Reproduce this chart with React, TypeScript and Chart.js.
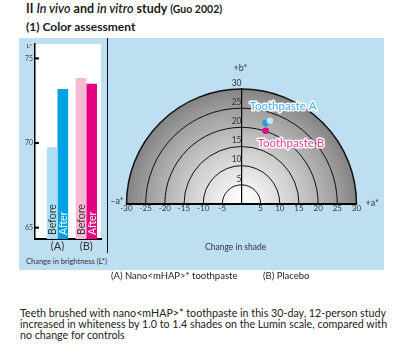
import React, { useEffect, useRef } from 'react';
import { Chart, registerables } from 'chart.js';
Chart.register(...registerables);

const FONT = 'Lato, "Open Sans", sans-serif';

// ---- Left chart: change in brightness (L*) ----
const groups = ['(A)', '(B)'];
const groupPositions = [1, 2];
const beforeL = [69.75, 73.85];
const afterL = [73.2, 73.5];
const barLabels = ['Before', 'After'];
const beforeColors = ['#acdff5', '#f6bad5'];
const afterColors = ['#00a0e4', '#e5007e'];
const barTextColors = ['#333333', '#ffffff'];

// ---- Right chart: change in shade (a*, b*) ----
const shadeRings = [5, 10, 15, 20, 25, 30];
const pasteAStart = [{ x: 7.4, y: 21.7 }];
const pasteAEnd = [{ x: 6.3, y: 21.1 }];
const pasteB = [{ x: 6.3, y: 19.1 }];
const pointLabels = ['Toothpaste A', 'Toothpaste B'];
const pointColors = ['#bfe6f8', '#1a9fe0', '#e6007e'];
const pointLabelColors = ['#48b1e8', '#ea3f9a'];

const leftDeco = {
  id: 'leftDeco',
  beforeDraw(chart: any) {
    const { ctx, chartArea } = chart;
    ctx.save();
    ctx.fillStyle = '#ffffff';
    ctx.fillRect(chartArea.left, chartArea.top, chartArea.right - chartArea.left, chartArea.bottom - chartArea.top);
    ctx.restore();
  },
  afterDraw(chart: any) {
    const { ctx, chartArea, scales } = chart;
    ctx.save();
    // labels inside bars
    ctx.font = `10.5px ${FONT}`;
    ctx.textAlign = 'left';
    ctx.textBaseline = 'middle';
    for (let di = 0; di < chart.data.datasets.length; di++) {
      const meta = chart.getDatasetMeta(di);
      for (const bar of meta.data as any[]) {
        const bx = Number(bar.x);
        ctx.save();
        ctx.translate(bx, chartArea.bottom - 4);
        ctx.rotate(-Math.PI / 2);
        ctx.fillStyle = barTextColors[di];
        ctx.fillText(barLabels[di], 0, 0.5);
        ctx.restore();
      }
    }
    // inside ticks
    ctx.strokeStyle = '#000';
    ctx.lineWidth = 2;
    scales.y.ticks.forEach((t: any) => {
      const y = scales.y.getPixelForValue(t.value);
      ctx.beginPath();
      ctx.moveTo(chartArea.left, y);
      ctx.lineTo(chartArea.left + 4, y);
      ctx.stroke();
    });
    ctx.fillStyle = '#333';
    ctx.font = `6.5px ${FONT}`;
    ctx.textAlign = 'right';
    ctx.textBaseline = 'middle';
    ctx.fillText('L*', chartArea.left - 3, chartArea.top + 2);
    ctx.restore();
  },
};

const rightDeco = {
  id: 'rightDeco',
  beforeDraw(chart: any) {
    const { ctx, scales } = chart;
    const xs = scales.x;
    const ys = scales.y;
    const cx = xs.getPixelForValue(0);
    const cy = ys.getPixelForValue(0);
    const outer = xs.getPixelForValue(shadeRings[shadeRings.length - 1]) - cx;
    ctx.save();
    const g = ctx.createRadialGradient(cx, cy, 0, cx, cy, outer);
    g.addColorStop(0, '#ffffff');
    g.addColorStop(0.12, '#f6f6f6');
    g.addColorStop(0.5, '#c9c9c9');
    g.addColorStop(0.85, '#9b9b9b');
    g.addColorStop(1, '#838383');
    ctx.beginPath();
    ctx.arc(cx, cy, outer, Math.PI, 2 * Math.PI);
    ctx.closePath();
    ctx.fillStyle = g;
    ctx.fill();
    ctx.strokeStyle = '#111';
    shadeRings.forEach((r, i) => {
      const rp = xs.getPixelForValue(r) - cx;
      ctx.lineWidth = i === shadeRings.length - 1 ? 1.5 : 1;
      ctx.beginPath();
      ctx.arc(cx, cy, rp, Math.PI, 2 * Math.PI);
      ctx.stroke();
    });
    ctx.restore();
  },
  afterDraw(chart: any) {
    const { ctx, scales, chartArea } = chart;
    const xs = scales.x;
    ctx.save();
    ctx.fillStyle = '#333';
    ctx.font = `9px ${FONT}`;
    ctx.textBaseline = 'middle';
    ctx.textAlign = 'center';
    ctx.fillText('+b*', xs.getPixelForValue(0) - 1, chartArea.top - 21);
    ctx.textAlign = 'right';
    ctx.fillText('\u2013a*', chartArea.left - 3, chartArea.bottom - 3);
    ctx.textAlign = 'left';
    ctx.fillText('+a*', chartArea.right + 9, chartArea.bottom - 1);

    ctx.font = `11.5px ${FONT}`;
    ctx.lineJoin = 'round';
    const a = chart.getDatasetMeta(1).data[0];
    const b = chart.getDatasetMeta(2).data[0];
    const items = [
      { text: pointLabels[0], x: a.x - 16, y: a.y - 16.5, color: pointLabelColors[0] },
      { text: pointLabels[1], x: b.x - 8, y: b.y + 13, color: pointLabelColors[1] },
    ];
    items.forEach((it) => {
      ctx.strokeStyle = 'rgba(255,255,255,0.95)';
      ctx.lineWidth = 3;
      ctx.strokeText(it.text, it.x, it.y);
      ctx.fillStyle = it.color;
      ctx.fillText(it.text, it.x, it.y);
    });
    ctx.restore();
  },
};

function LeftChart() {
  const ref = useRef<HTMLCanvasElement>(null);
  useEffect(() => {
    const chart = new Chart(ref.current as HTMLCanvasElement, {
      type: 'bar',
      data: {
        datasets: [
          {
            label: barLabels[0],
            data: groupPositions.map((x, i) => ({ x, y: beforeL[i] })),
            backgroundColor: beforeColors,
            borderWidth: 0,
            categoryPercentage: 0.74,
            barPercentage: 1,
          },
          {
            label: barLabels[1],
            data: groupPositions.map((x, i) => ({ x, y: afterL[i] })),
            backgroundColor: afterColors,
            borderWidth: 0,
            categoryPercentage: 0.74,
            barPercentage: 1,
          },
        ],
      } as any,
      options: {
        responsive: false,
        animation: false,
        layout: { padding: { top: 6, right: 6, left: 0, bottom: 0 } },
        plugins: { legend: { display: false }, tooltip: { enabled: false } },
        scales: {
          x: {
            type: 'linear',
            offset: false,
            min: 0.22,
            max: 2.51,
            grid: { display: false, drawTicks: false, offset: false },
            border: { display: true, color: '#000', width: 2 },
            ticks: {
              stepSize: 1,
              includeBounds: false,
              autoSkip: false,
              maxRotation: 0,
              padding: 1,
              color: '#333',
              font: { family: FONT, size: 11 },
              callback: (v: any) => groups[groupPositions.indexOf(v)] ?? '',
            },
            afterFit: (s: any) => { s.height = 12; },
          },
          y: {
            min: 64.33,
            max: 75.84,
            grid: { display: false, drawTicks: false },
            border: { display: true, color: '#000', width: 1.5 },
            ticks: {
              stepSize: 5,
              includeBounds: false,
              padding: 2,
              color: '#444',
              font: { family: FONT, size: 7 },
            },
            afterFit: (s: any) => { s.width = 16; },
          },
        },
      } as any,
      plugins: [leftDeco],
    });
    return () => chart.destroy();
  }, []);
  return (
    <canvas ref={ref} width={88} height={213}
      style={{ position: 'absolute', left: 19, top: 38, width: 88, height: 213 }} />
  );
}

function RightChart() {
  const ref = useRef<HTMLCanvasElement>(null);
  useEffect(() => {
    const chart = new Chart(ref.current as HTMLCanvasElement, {
      type: 'scatter',
      data: {
        datasets: [
          { data: pasteAStart, backgroundColor: pointColors[0], pointRadius: 3.3, borderWidth: 0 },
          { data: pasteAEnd, backgroundColor: pointColors[1], pointRadius: 3.3, borderWidth: 0 },
          { data: pasteB, backgroundColor: pointColors[2], pointRadius: 3.3, borderWidth: 0 },
        ],
      } as any,
      options: {
        responsive: false,
        animation: false,
        layout: { padding: { top: 51, right: 27.5, left: 18.5, bottom: 54 } },
        plugins: { legend: { display: false }, tooltip: { enabled: false } },
        scales: {
          x: {
            type: 'linear',
            min: -30,
            max: 30,
            grid: { display: false, drawTicks: false },
            border: { display: true, color: '#000', width: 2 },
            ticks: {
              stepSize: 5,
              autoSkip: false,
              maxRotation: 0,
              padding: 0,
              color: '#333',
              font: { family: FONT, size: 8 },
              callback: (v: any) => (v === 0 ? '' : String(v)),
            },
            afterFit: (s: any) => { s.height = 12; },
          },
          y: {
            type: 'linear',
            position: { x: 0 },
            min: 0,
            max: 30,
            grid: { display: false, drawTicks: false },
            border: { display: true, color: '#000', width: 1.2 },
            ticks: {
              stepSize: 5,
              padding: 1,
              labelOffset: -6,
              color: '#333',
              font: { family: FONT, size: 8.5 },
              callback: (v: any) => (v === 0 ? '' : String(v)),
            },
          },
        },
      } as any,
      plugins: [rightDeco],
    });
    return () => chart.destroy();
  }, []);
  return (
    <canvas ref={ref} width={276} height={232}
      style={{ position: 'absolute', left: 108, top: 38, width: 276, height: 232 }} />
  );
}

function Text(props: { left: number; top: number; size: number; lh?: number; color?: string; weight?: number; children: any; width?: number }) {
  const { left, top, size, lh, color, weight, children, width } = props;
  return (
    <div style={{
      position: 'absolute', left, top, fontSize: size, lineHeight: `${lh ?? Math.round(size * 1.2)}px`,
      color: color ?? '#222', fontWeight: weight ?? 400, whiteSpace: width ? 'normal' : 'nowrap', width,
      fontFamily: FONT,
    }}>{children}</div>
  );
}

export default function App() {
  return (
    <div style={{ position: 'fixed', left: 0, top: 0, width: 411, height: 360, background: '#fff', overflow: 'hidden', fontFamily: FONT }}>
      <Text left={26} top={1.5} size={12.5} lh={14} weight={700} color="#1a1a1a">
        II <i style={{ fontWeight: 600 }}>In vivo</i> and <i style={{ fontWeight: 600 }}>in vitro</i> study <span style={{ fontSize: 10.5 }}>(Guo 2002)</span>
      </Text>
      <Text left={26} top={19.5} size={12} lh={14} weight={700} color="#1a1a1a">(1) Color assessment</Text>
      <div style={{ position: 'absolute', left: 19, top: 38, width: 365, height: 232, background: '#bedef2' }} />
      <LeftChart />
      <RightChart />
      <div style={{ position: 'absolute', left: 107, top: 38, width: 1, height: 215, background: '#111' }} />
      <Text left={26} top={257} size={7.5} lh={9} color="#333">Change in brightness (L*)</Text>
      <Text left={205} top={241.5} size={8.5} lh={10} color="#333">Change in shade</Text>
      <Text left={111} top={269.5} size={9.5} lh={11} color="#222">(A) Nano&lt;mHAP&gt;* toothpaste</Text>
      <Text left={263} top={269.5} size={9.5} lh={11} color="#222">(B) Placebo</Text>
      <Text left={20} top={307} size={10.7} lh={11} color="#222" width={375}>
        Teeth brushed with nano&lt;mHAP&gt;* toothpaste in this 30-day, 12-person study increased in whiteness by 1.0 to 1.4 shades on the Lumin scale, compared with no change for controls
      </Text>
    </div>
  );
}
